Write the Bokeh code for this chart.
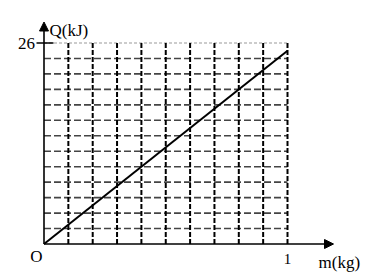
from bokeh.plotting import figure
from bokeh.models import Range1d, Arrow, NormalHead
from bokeh.core.properties import value
from bokeh.embed import file_html
from bokeh.resources import INLINE

# ---- data ----
m_grid = [0.1, 0.2, 0.3, 0.4, 0.5, 0.6, 0.7, 0.8, 0.9, 1.0]      # kg
q_grid = [2, 4, 6, 8, 10, 12, 14, 16, 18, 20, 22, 24]            # kJ
q_top = [26]
line_m = [0, 1]
line_q = [0, 25]
y_tick_labels = ["26"]
x_tick_labels = ["1"]
x_tick_vals = [1]
origin_label = ["O"]
x_title = "m(kg)"
y_title = "Q(kJ)"

# ---- layout (pixels) ----
W, H = 366, 276
X0_PX, X1_PX = 43.5, 287.0      # screen x of m=0 and m=1
Y0_PX, YT_PX = 243.5, 42.5      # screen y of Q=0 and Q=26
sx = (X1_PX - X0_PX) / 1.0
sy = (Y0_PX - YT_PX) / 26.0

def px_x(px):
    return (px - X0_PX) / sx

def px_y(py):
    return (Y0_PX - py) / sy

FONT = value("Liberation Serif")

p = figure(width=W, height=H, output_backend="svg", toolbar_location=None,
           x_range=Range1d(px_x(0), px_x(W)), y_range=Range1d(px_y(H), px_y(0)),
           min_border=0, min_border_left=0, min_border_right=0,
           min_border_top=0, min_border_bottom=0)
p.xaxis.visible = False
p.yaxis.visible = False
p.grid.visible = False
p.outline_line_color = None
p.background_fill_color = "white"
p.border_fill_color = "white"

q_max = q_top[0]

# horizontal dashed grid lines
p.segment(x0=[0] * len(q_grid), y0=q_grid, x1=[1] * len(q_grid), y1=q_grid,
          line_color="#444444", line_width=1.6, line_dash="7 3")
# top light line
p.segment(x0=[0], y0=q_top, x1=[1], y1=q_top,
          line_color="#9a9a9a", line_width=1.2, line_dash="3 2")
# vertical dashed grid lines
p.segment(x0=m_grid, y0=[0] * len(m_grid), x1=m_grid, y1=[q_max] * len(m_grid),
          line_color="black", line_width=2, line_dash="5 2")

# data line
p.line(line_m, line_q, line_color="black", line_width=2)

# axes with arrows
x_tip = px_x(333)
y_tip = px_y(21.5)
p.add_layout(Arrow(x_start=0, y_start=0, x_end=x_tip, y_end=0,
                   line_color="black", line_width=1.6,
                   end=NormalHead(size=9, fill_color="black", line_color="black")))
p.add_layout(Arrow(x_start=0, y_start=0, x_end=0, y_end=y_tip,
                   line_color="black", line_width=1.6,
                   end=NormalHead(size=9, fill_color="black", line_color="black")))

# tick at 26
p.segment(x0=[px_x(36)], y0=q_top, x1=[px_x(53)], y1=q_top,
          line_color="black", line_width=1.6)

# labels
p.text(x=[0], y=q_top, text=y_tick_labels, text_align="right", text_baseline="middle",
       x_offset=-9, y_offset=0, text_font=FONT, text_font_size="17px", text_color="black")
p.text(x=x_tick_vals, y=[0], text=x_tick_labels, text_align="center", text_baseline="middle",
       x_offset=0, y_offset=15, text_font=FONT, text_font_size="15px", text_color="black")
p.text(x=[0], y=[0], text=origin_label, text_align="center", text_baseline="middle",
       x_offset=-7.5, y_offset=12, text_font=FONT, text_font_size="17px", text_color="black")
p.text(x=[0], y=[y_tip], text=[y_title], text_align="left", text_baseline="middle",
       x_offset=5.5, y_offset=8.5, text_font=FONT, text_font_size="17px", text_color="black")
p.text(x=[1], y=[0], text=[x_title], text_align="left", text_baseline="middle",
       x_offset=31, y_offset=18.5, text_font=FONT, text_font_size="17px", text_color="black")

open("out.html", "w").write(file_html(p, INLINE))
